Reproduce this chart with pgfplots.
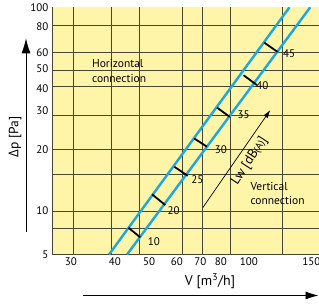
\documentclass[border=0pt]{standalone}
\usepackage{pgfplots}
\pgfplotsset{compat=1.18}
\usepackage{fontspec}
\setmainfont{PT Sans}
\newfontfamily\grkfont{Open Sans}
\usetikzlibrary{arrows.meta}
\definecolor{bgyel}{HTML}{FFF5A8}
\definecolor{lblue}{HTML}{1AA8E0}
\definecolor{gridc}{HTML}{45453A}
\begin{document}
\begin{tikzpicture}[x=1pt,y=1pt]
\useasboundingbox (0,0) rectangle (319,307);
\begin{axis}[
  at={(52pt,52.5pt)}, anchor=south west,
  scale only axis, width=267pt, height=247.2pt,
  xmode=log, ymode=log,
  xmin=26.5, xmax=152, ymin=6.12, ymax=100,
  axis x line*=bottom, axis y line*=left,
  axis line style={gridc, line width=0.9pt, -},
  axis background/.style={fill=bgyel},
  xtick={30,40,50,60,70,80,96,144.5},
  xticklabels={30,40,50,60,70,80,100,150},
  ytick={6.12,10,20,31,40,50,60,80,100},
  yticklabels={5,10,20,30,40,50,60,80,100},
  major tick length=0pt, minor tick length=0pt,
  extra x ticks={30.5,39,46.9,62.3,70.7,85,120},
  extra x tick labels={},
  extra y ticks={8.25,10,15.2,20,29.6,41,49,60,81.5},
  extra y tick labels={},
  extra x tick style={grid=major, major tick length=0pt},
  extra y tick style={grid=major, major tick length=0pt},
  major grid style={gridc, line width=0.8pt},
  tick label style={font=\fontsize{11}{12}\selectfont},
  /pgf/number format/assume math mode=true,
  clip=true,
]
\addplot[lblue, line width=2.4pt] coordinates {(38.5,6.12) (125.3,100)};
\addplot[lblue, line width=2.4pt] coordinates {(43.3,6.12) (143.5,100)};
\addplot[black, line width=1.8pt] coordinates {(43.7,8.28) (47.2,7.43)};
\addplot[black, line width=1.8pt] coordinates {(51.0,12.08) (55.6,10.7)};
\addplot[black, line width=1.8pt] coordinates {(59.0,16.49) (64.4,14.9)};
\addplot[black, line width=1.8pt] coordinates {(67.2,22.7) (73.0,20.7)};
\addplot[black, line width=1.8pt] coordinates {(78.0,32.2) (84.7,29.0)};
\addplot[black, line width=1.8pt] coordinates {(92.8,46.4) (101.3,41.5)};
\addplot[black, line width=1.8pt] coordinates {(106.2,67.1) (115.9,60.4)};
\begin{scope}[every node/.style={font=\fontsize{11}{12}\selectfont, inner sep=0pt}]
\node at (axis cs:51.6,7.07) {10};
\node at (axis cs:58.7,10.1) {20};
\node at (axis cs:68.6,14.3) {25};
\node at (axis cs:80.0,20.06) {30};
\node at (axis cs:92.8,29.55) {35};
\node at (axis cs:105.0,41.1) {40};
\node at (axis cs:125.0,59.3) {45};
\end{scope}
\draw[-{Latex[length=8pt,width=5pt]}, line width=0.7pt] (axis cs:71.1,10.4) -- (axis cs:110.5,31.3);
\node[rotate=57, font=\fontsize{13.5}{15}\selectfont, inner sep=0pt] at (axis cs:96.5,17.6) {Lw [dB{\fontsize{10}{11}\selectfont(A)}]};
\node[anchor=west, align=left, inner sep=0pt, font=\fontsize{11.5}{15}\selectfont] at (axis cs:34.4,48.7) {Horizontal\\connection};
\node[anchor=west, align=left, inner sep=0pt, font=\fontsize{11.5}{14}\selectfont] at (axis cs:97.0,12.2) {Vertical\\connection};
\end{axis}
\draw[-{Latex[length=15pt,width=9pt]}, line width=0.9pt] (26,75) -- (26,268.7);
\node[rotate=90, font=\fontsize{13.5}{15}\selectfont] at (15,170) {{\grkfont\symbol{"0394}}p [Pa]};
\draw[-{Latex[length=13pt,width=8pt]}, line width=0.9pt] (82.7,11.5) -- (318.5,11.5);
\node[font=\fontsize{14}{16}\selectfont] at (210,26) {V [m\textsuperscript{3}/h]};
\end{tikzpicture}
\end{document}
